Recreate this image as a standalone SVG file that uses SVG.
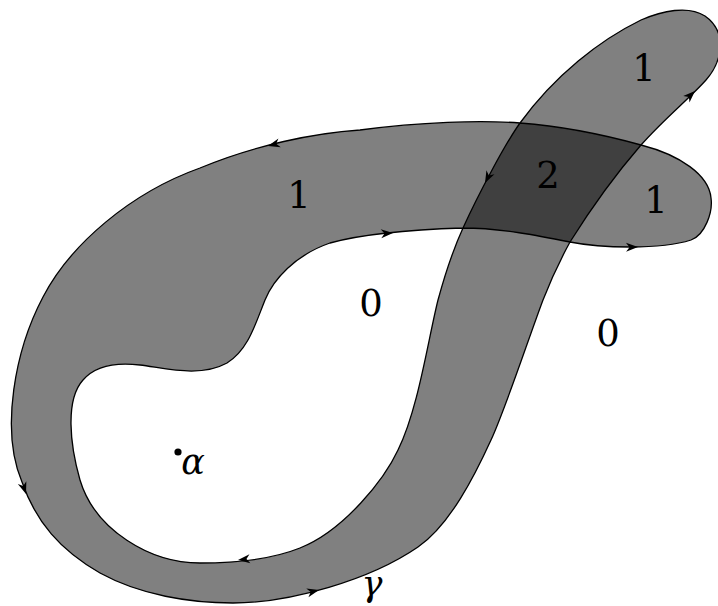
<svg xmlns="http://www.w3.org/2000/svg" xmlns:xlink="http://www.w3.org/1999/xlink" width="718" height="606" viewBox="0 0 718 606">
<style>
text{font-family:'DejaVu Serif',serif;font-size:37px;fill:#000;text-anchor:middle}
.it{font-style:italic;font-size:35px}
.edge{fill:none;stroke:#000;stroke-width:1.3;stroke-linejoin:round}
</style>
<defs>
<path id="ah" d="M0,0 L-12,-4.5 L-8.5,0 L-12,4.5 Z" fill="#000"/>
<path id="gamma" d="M233,603 C290,603 370,580 418,547 C450,525 475,475 491,440 C505,410 528,340 543,300 C550,282 558,264 570,242 C590,210 615,175 641,145 C665,118 690,98 706,80 C722,62 728,32 705,16 C688,5 662,11 641,20 C600,40 555,75 520,123 C505,144 478,195 463,228 C452,252 444,278 438,300 C428,340 418,410 398,450 C385,478 345,530 300,548 C270,560 235,563 200,563 C150,563 95,530 80,480 C70,445 65,400 83,380 C95,366 115,362 140,365 C165,368 200,378 227,363 C248,350 255,325 265,300 C273,280 295,255 330,243 C355,236 400,230 463,228 C500,228 540,236 570,242 C600,248 660,250 691,240 C705,235 713,212 711,198 C709,175 680,155 641,145 C605,135 560,126 520,123 C480,120 420,122 360,130 C315,133 255,145 200,168 C130,193 70,245 43,297 C15,350 0,430 22,482 C36,522 60,550 100,573 C140,595 190,603 233,603 Z"/>
</defs>
<g id="regions">
<use xlink:href="#gamma" fill="#808080" fill-rule="nonzero"/>
<path id="overlap" d="M520,123 C560,126 605,135 641,145 C615,175 590,210 570,242 C540,236 500,228 463,228 C478,195 505,144 520,123 Z" fill="#404040"/>
</g>
<g id="curve">
<use xlink:href="#gamma" class="edge"/>
</g>
<g id="arrows">
<use xlink:href="#ah" transform="translate(319,590) rotate(-14)"/>
<use xlink:href="#ah" transform="translate(695,91) rotate(-44)"/>
<use xlink:href="#ah" transform="translate(485,183) rotate(117)"/>
<use xlink:href="#ah" transform="translate(238,560) rotate(174)"/>
<use xlink:href="#ah" transform="translate(393,233) rotate(-4)"/>
<use xlink:href="#ah" transform="translate(638,247) rotate(-1)"/>
<use xlink:href="#ah" transform="translate(268,146) rotate(165)"/>
<use xlink:href="#ah" transform="translate(26,494) rotate(71)"/>
</g>
<g id="labels">
<text x="299" y="208">1</text>
<text x="644" y="81">1</text>
<text x="548" y="188">2</text>
<text x="656" y="213">1</text>
<text x="371" y="316">0</text>
<text x="608" y="346">0</text>
<circle cx="178" cy="452" r="3.6" fill="#000"/>
<text class="it" x="193" y="474">α</text>
<text class="it" x="372" y="596">γ</text>
</g>
</svg>
